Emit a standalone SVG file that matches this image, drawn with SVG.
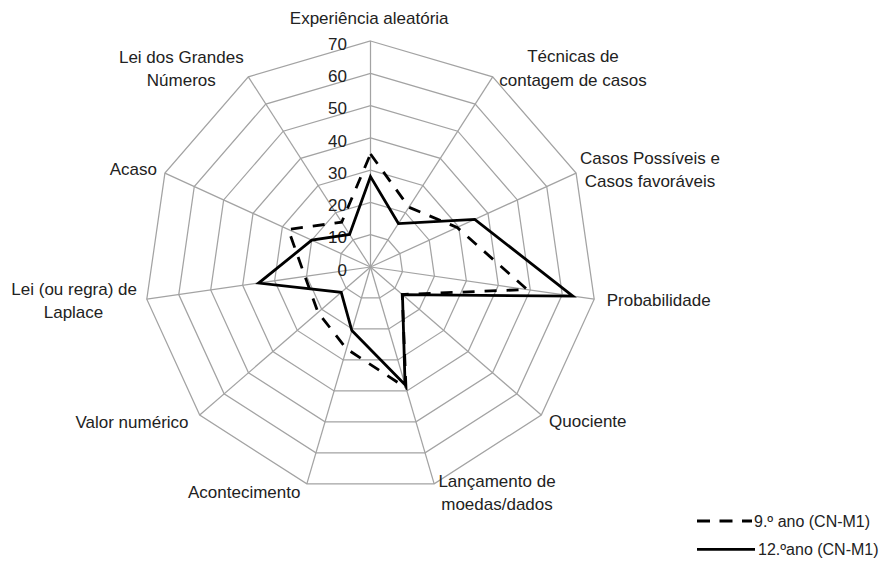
<svg xmlns="http://www.w3.org/2000/svg" width="882" height="561" viewBox="0 0 882 561">
<style>
  .ring { fill: none; stroke: #a3a3a3; stroke-width: 1.25; }
  .spoke { stroke: #a3a3a3; stroke-width: 1.25; }
  text { font-family: "Liberation Sans", Arial, sans-serif; fill: #222; }
  .lbl { font-size: 17px; text-anchor: middle; }
  .val { font-size: 17px; text-anchor: end; }
  .leg { font-size: 16px; }
  .s9 { fill: none; stroke: #000; stroke-width: 2.8; stroke-dasharray: 12 10; stroke-linejoin: miter; stroke-miterlimit: 10; }
  .s12 { fill: none; stroke: #000; stroke-width: 2.8; stroke-linejoin: miter; stroke-miterlimit: 10; }
</style>
<rect width="882" height="561" fill="#fff"/>

<g id="grid">
  <g id="rings" transform="translate(370.5,267)">
    <polygon class="ring" vector-effect="non-scaling-stroke" transform="scale(32.2857)" points="0,-1 0.54064,-0.84125 0.90963,-0.41542 0.98982,0.14231 0.75575,0.65486 0.28173,0.95949 -0.28173,0.95949 -0.75575,0.65486 -0.98982,0.14231 -0.90963,-0.41542 -0.54064,-0.84125"/>
    <polygon class="ring" vector-effect="non-scaling-stroke" transform="scale(64.5714)" points="0,-1 0.54064,-0.84125 0.90963,-0.41542 0.98982,0.14231 0.75575,0.65486 0.28173,0.95949 -0.28173,0.95949 -0.75575,0.65486 -0.98982,0.14231 -0.90963,-0.41542 -0.54064,-0.84125"/>
    <polygon class="ring" vector-effect="non-scaling-stroke" transform="scale(96.8571)" points="0,-1 0.54064,-0.84125 0.90963,-0.41542 0.98982,0.14231 0.75575,0.65486 0.28173,0.95949 -0.28173,0.95949 -0.75575,0.65486 -0.98982,0.14231 -0.90963,-0.41542 -0.54064,-0.84125"/>
    <polygon class="ring" vector-effect="non-scaling-stroke" transform="scale(129.1429)" points="0,-1 0.54064,-0.84125 0.90963,-0.41542 0.98982,0.14231 0.75575,0.65486 0.28173,0.95949 -0.28173,0.95949 -0.75575,0.65486 -0.98982,0.14231 -0.90963,-0.41542 -0.54064,-0.84125"/>
    <polygon class="ring" vector-effect="non-scaling-stroke" transform="scale(161.4286)" points="0,-1 0.54064,-0.84125 0.90963,-0.41542 0.98982,0.14231 0.75575,0.65486 0.28173,0.95949 -0.28173,0.95949 -0.75575,0.65486 -0.98982,0.14231 -0.90963,-0.41542 -0.54064,-0.84125"/>
    <polygon class="ring" vector-effect="non-scaling-stroke" transform="scale(193.7143)" points="0,-1 0.54064,-0.84125 0.90963,-0.41542 0.98982,0.14231 0.75575,0.65486 0.28173,0.95949 -0.28173,0.95949 -0.75575,0.65486 -0.98982,0.14231 -0.90963,-0.41542 -0.54064,-0.84125"/>
    <polygon class="ring" vector-effect="non-scaling-stroke" transform="scale(226)" points="0,-1 0.54064,-0.84125 0.90963,-0.41542 0.98982,0.14231 0.75575,0.65486 0.28173,0.95949 -0.28173,0.95949 -0.75575,0.65486 -0.98982,0.14231 -0.90963,-0.41542 -0.54064,-0.84125"/>
  </g>
  <g id="spokes">
    <line class="spoke" x1="370.5" y1="267" x2="370.5" y2="41"/>
    <line class="spoke" x1="370.5" y1="267" x2="492.68" y2="76.88"/>
    <line class="spoke" x1="370.5" y1="267" x2="576.08" y2="173.11"/>
    <line class="spoke" x1="370.5" y1="267" x2="594.2" y2="299.16"/>
    <line class="spoke" x1="370.5" y1="267" x2="541.3" y2="415"/>
    <line class="spoke" x1="370.5" y1="267" x2="434.17" y2="483.84"/>
    <line class="spoke" x1="370.5" y1="267" x2="306.83" y2="483.84"/>
    <line class="spoke" x1="370.5" y1="267" x2="199.7" y2="415"/>
    <line class="spoke" x1="370.5" y1="267" x2="146.8" y2="299.16"/>
    <line class="spoke" x1="370.5" y1="267" x2="164.92" y2="173.11"/>
    <line class="spoke" x1="370.5" y1="267" x2="248.32" y2="76.88"/>
  </g>
</g>

<g id="scale-values">
  <text class="val" x="347" y="275.6">0</text>
  <text class="val" x="347" y="243.3">10</text>
  <text class="val" x="347" y="211">20</text>
  <text class="val" x="347" y="178.7">30</text>
  <text class="val" x="347" y="146.5">40</text>
  <text class="val" x="347" y="114.2">50</text>
  <text class="val" x="347" y="81.9">60</text>
  <text class="val" x="347" y="49.6">70</text>
</g>

<g id="cat-experiencia"><text class="lbl" x="369.2" y="24">Experiência aleatória</text></g>
<g id="cat-tecnicas"><text class="lbl" x="573" y="62"><tspan x="573">Técnicas de</tspan><tspan x="573" y="85.5">contagem de casos</tspan></text></g>
<g id="cat-casos"><text class="lbl" x="650" y="164"><tspan x="650">Casos Possíveis e</tspan><tspan x="650" y="187">Casos favoráveis</tspan></text></g>
<g id="cat-probabilidade"><text class="lbl" x="658.7" y="306">Probabilidade</text></g>
<g id="cat-quociente"><text class="lbl" x="587.8" y="427.2">Quociente</text></g>
<g id="cat-lancamento"><text class="lbl" x="497" y="486.7"><tspan x="497">Lançamento de</tspan><tspan x="497" y="510">moedas/dados</tspan></text></g>
<g id="cat-acontecimento"><text class="lbl" x="244.2" y="497.7">Acontecimento</text></g>
<g id="cat-valor"><text class="lbl" x="132" y="427.5">Valor numérico</text></g>
<g id="cat-laplace"><text class="lbl" x="74.2" y="295"><tspan x="74.2">Lei (ou regra) de</tspan><tspan x="73.5" y="318.3">Laplace</tspan></text></g>
<g id="cat-acaso"><text class="lbl" x="133.3" y="175">Acaso</text></g>
<g id="cat-lei-grandes"><text class="lbl" x="181.3" y="62.7"><tspan x="181.3">Lei dos Grandes</tspan><tspan x="181.3" y="86">Números</tspan></text></g>

<g id="series">
  <polygon id="serie-9ano" class="s9" points="370.5,154 408.9,207.25 457.13,227.44 527.09,289.51 402.22,294.48 405.97,387.81 346.49,348.78 318.04,312.45 304.98,276.42 288.27,229.45 341.7,222.19"/>
  <polygon id="serie-12ano" class="s12" points="370.5,176.6 398.43,223.54 474.75,219.39 572.79,296.08 402.46,294.69 405.06,384.72 351.85,330.51 341.22,292.37 258.65,283.08 311.77,240.18 349.56,234.41"/>
</g>

<g id="legend">
  <g id="legend-9ano">
    <line x1="697" y1="521" x2="752" y2="521" stroke="#000" stroke-width="2.8" stroke-dasharray="13 9.5"/>
    <text class="leg" x="754" y="527">9.º ano (CN-M1)</text>
  </g>
  <g id="legend-12ano">
    <line x1="697" y1="549.3" x2="755" y2="549.3" stroke="#000" stroke-width="2.8"/>
    <text class="leg" x="758" y="555">12.ºano (CN-M1)</text>
  </g>
</g>
</svg>
